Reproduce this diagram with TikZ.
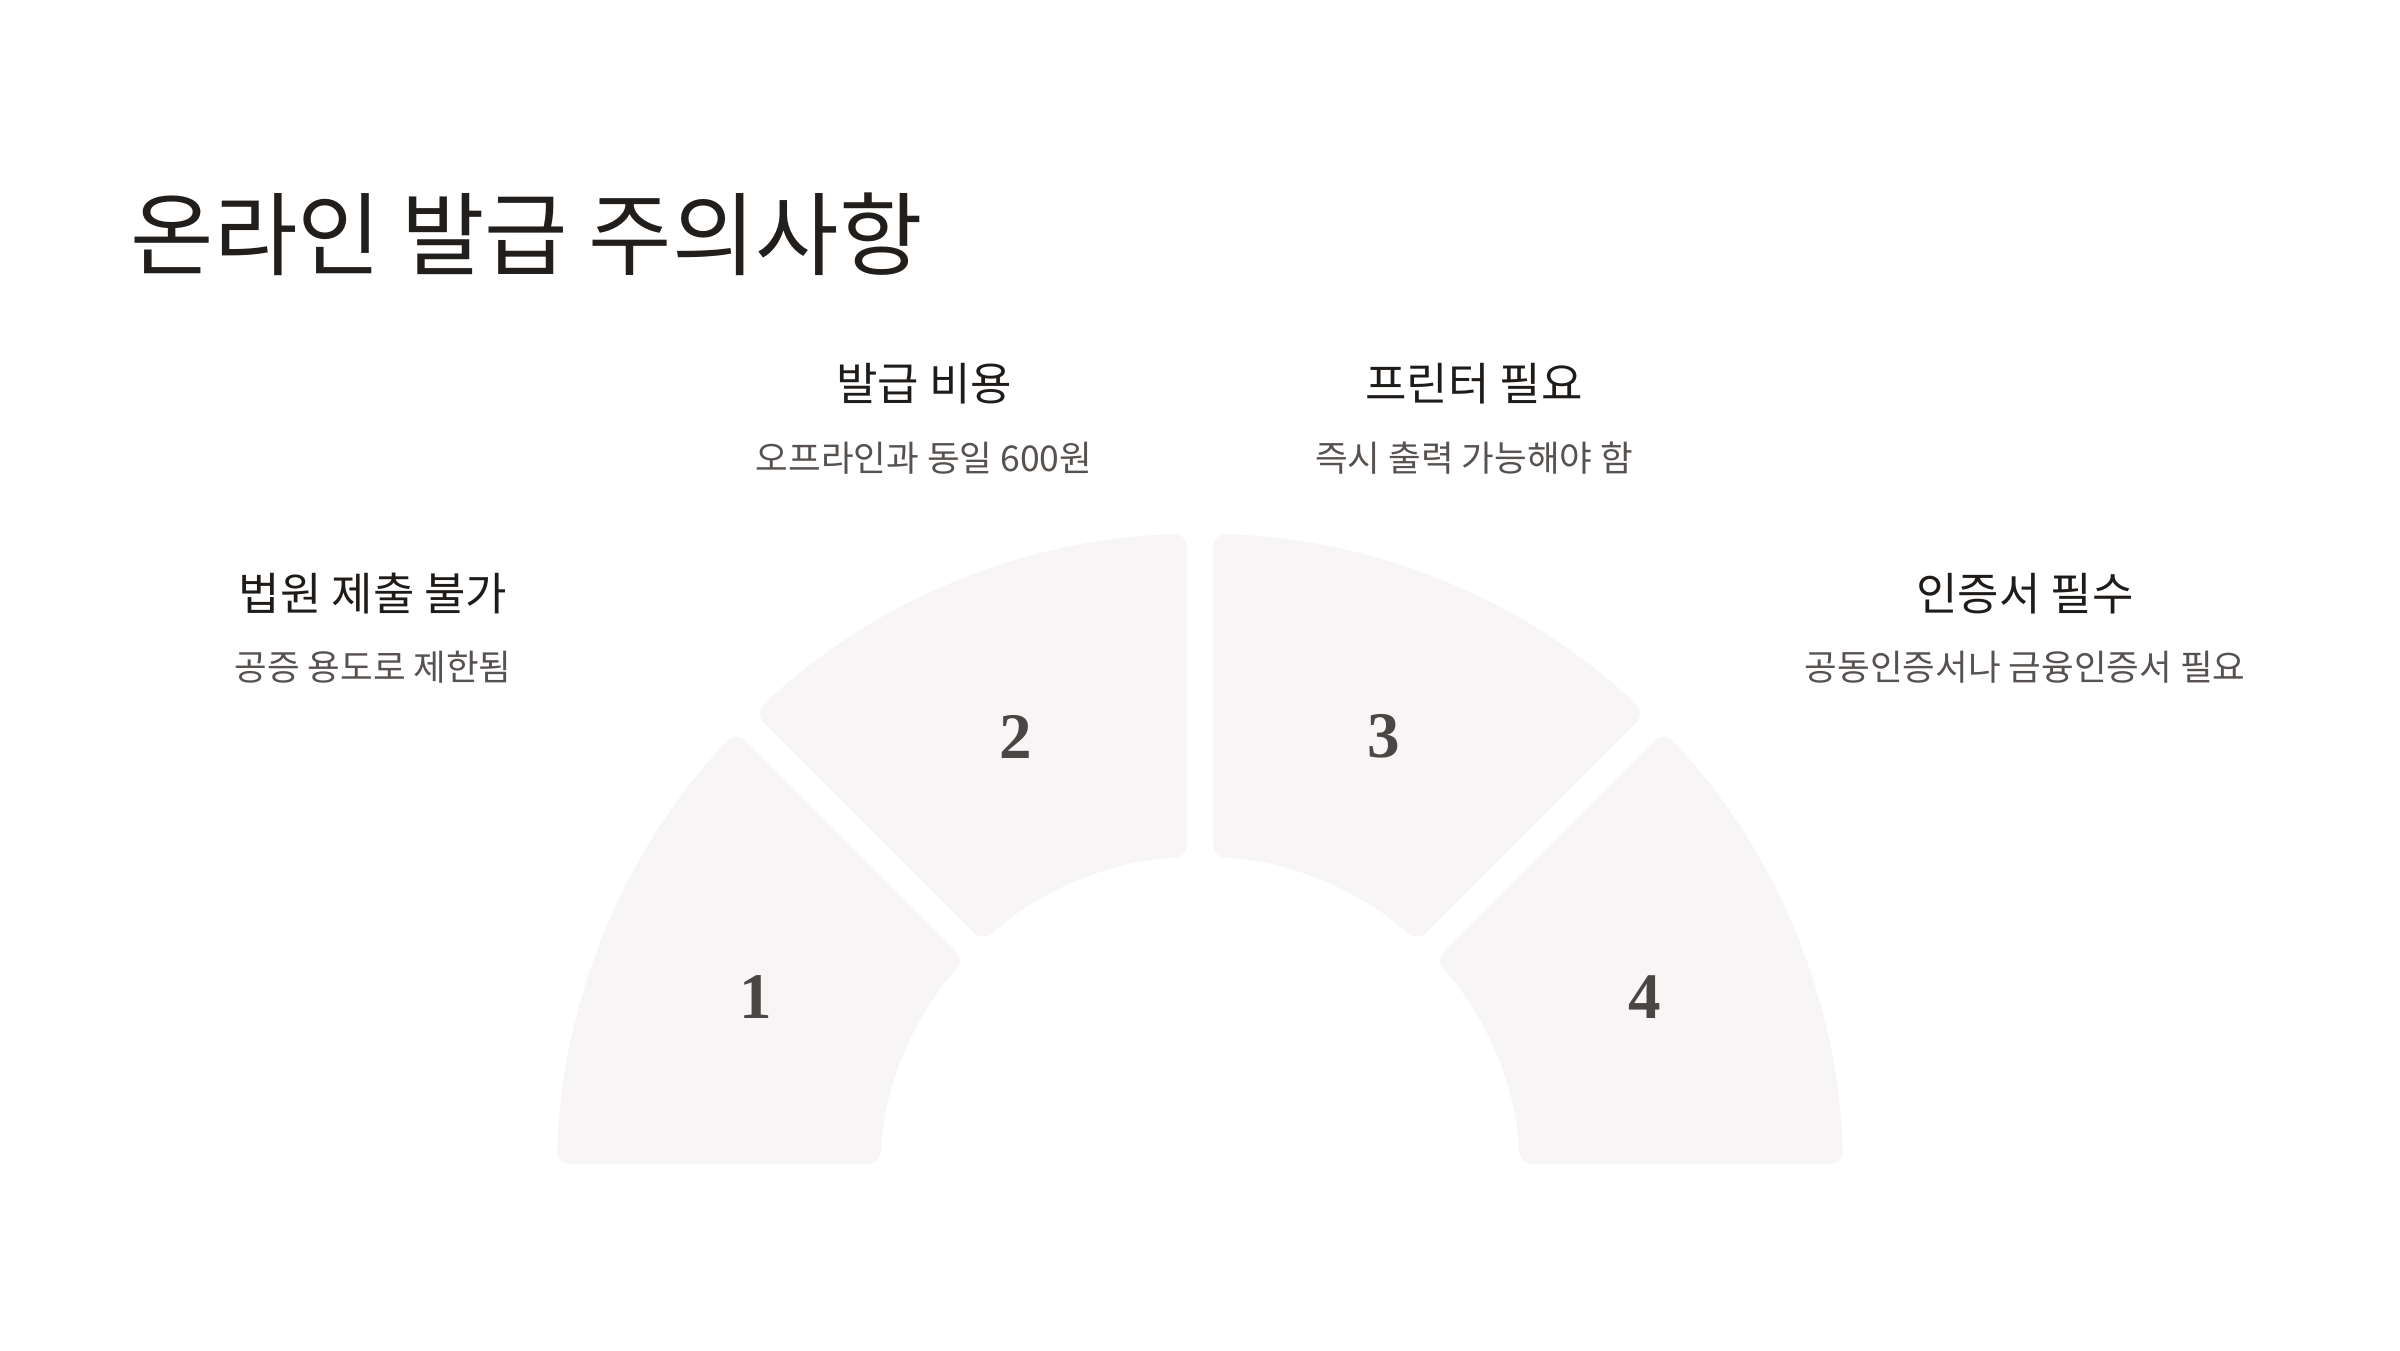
\documentclass[tikz,border=0pt]{standalone}
\usepackage{fontspec}
\setmainfont{Noto Sans CJK KR}
\newfontfamily\numfont{Liberation Serif}
\usetikzlibrary{calc}
\definecolor{segfill}{HTML}{F7F5F5}
\definecolor{titlecol}{HTML}{221E1C}
\definecolor{headcol}{HTML}{1F1B18}
\definecolor{desccol}{HTML}{57524F}
\definecolor{numcol}{HTML}{4A4643}
\tikzset{
  titlestyle/.style={anchor=west, inner sep=0pt, text=titlecol, font=\fontsize{25.8pt}{30pt}\selectfont},
  headstyle/.style={inner sep=0pt, text=headcol, font=\fontsize{12.8pt}{15pt}\selectfont},
  descstyle/.style={inner sep=0pt, text=desccol, font=\fontsize{10.1pt}{12pt}\selectfont},
  numstyle/.style={inner sep=0pt, text=numcol, font=\numfont\bfseries\fontsize{18.5pt}{22pt}\selectfont},
  segstyle/.style={fill=segfill, rounded corners=3.5pt}
}
\begin{document}
\begin{tikzpicture}[x=0.01cm, y=-0.01cm]
\fill[white] (0,0) rectangle (2400,1350);
\useasboundingbox (0,0) rectangle (2400,1350);
\coordinate (C) at (1200,1177);
\coordinate (NC) at (1200,1181);
\foreach \a/\b/\n/\lab in {135/180/1/s1, 90/135/2/s2, 45/90/3/s3, 0/45/4/s4} {
  \fill[segstyle] ($(C)+({-(\b-1.16)}:643)$) arc[start angle={-(\b-1.16)}, end angle={-(\a+1.16)}, radius=643]
     -- ($(C)+({-(\a+2.33)}:320)$) arc[start angle={-(\a+2.33)}, end angle={-(\b-2.33)}, radius=320] -- cycle;
  \node[numstyle] (\lab) at ($(NC)+({-(\a+22.5)}:481)$) {\n};
}
\node[titlestyle] (title) at (130,234) {온라인 발급 주의사항};
\node[headstyle] (h2) at (924,384) {발급 비용};
\node[descstyle] (d2) at (924,458) {오프라인과 동일 600원};
\node[headstyle] (h3) at (1474,384) {프린터 필요};
\node[descstyle] (d3) at (1474,458) {즉시 출력 가능해야 함};
\node[headstyle] (h1) at (373,594) {법원 제출 불가};
\node[descstyle] (d1) at (373,667) {공증 용도로 제한됨};
\node[headstyle] (h4) at (2025,594) {인증서 필수};
\node[descstyle] (d4) at (2025,667) {공동인증서나 금융인증서 필요};
\end{tikzpicture}
\end{document}
